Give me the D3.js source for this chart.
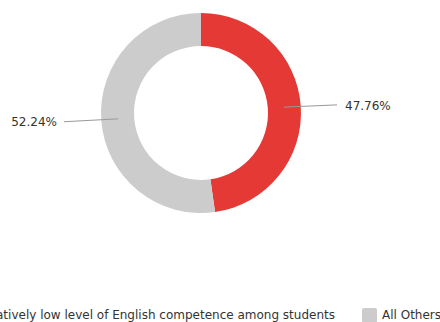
<!DOCTYPE html>
<html><head><meta charset="utf-8">
<script src="https://cdn.jsdelivr.net/npm/d3@7"></script>
<style>body{margin:0;background:#fff;overflow:hidden}svg{display:block}</style>
</head><body>
<svg id="c" width="440" height="322"></svg>
<script>
const categories = ["Relatively low level of English competence among students", "All Others"];
const values = [47.76, 52.24];
const colors = ["#e53935", "#cccccc"];

const FONT = "DejaVu Sans, sans-serif";
const svg = d3.select("#c");
const cx = 201, cy = 113, rOuter = 100, rInner = 67;
const g = svg.append("g").attr("transform", `translate(${cx},${cy})`);
const pie = d3.pie().sort(null).value(d => d)(values);
const arc = d3.arc().innerRadius(rInner).outerRadius(rOuter);
const mid = d3.arc().innerRadius(83).outerRadius(83);

g.selectAll("path.s").data(pie).join("path").attr("class","s")
  .attr("d", arc).attr("fill", (d,i) => colors[i]);

const fmt = v => v.toFixed(2) + "%";
pie.forEach((d,i) => {
  const [x0,y0] = mid.centroid(d);
  const right = x0 > 0;
  const x1 = right ? 136 : -137;
  const y1 = right ? y0 - 2.3 : y0 + 2.9;
  g.append("line").attr("x1", x0).attr("y1", y0).attr("x2", x1).attr("y2", y1)
    .attr("stroke", "#999").attr("stroke-width", 1);
  g.append("text").attr("x", right ? x1 + 8 : x1 - 7).attr("y", y1 + 0.5)
    .attr("dy", "0.35em").attr("text-anchor", right ? "start" : "end")
    .attr("font-family", FONT).attr("font-size", 12)
    .attr("fill", "#333").text(fmt(d.data));
});

// legend
const ly = 315;
const leg = svg.append("g");
const t2x = 382;
leg.append("rect").attr("x", t2x - 20).attr("y", ly - 7).attr("width", 15).attr("height", 15)
  .attr("rx", 2).attr("fill", colors[1]);
leg.append("text").attr("x", t2x).attr("y", ly).attr("dy", "0.35em")
  .attr("font-family", FONT).attr("font-size", 12).attr("fill", "#333")
  .text(categories[1]);
const t1 = leg.append("text").attr("x", 335).attr("y", ly).attr("dy", "0.35em")
  .attr("text-anchor", "end")
  .attr("font-family", FONT).attr("font-size", 12).attr("fill", "#333")
  .text(categories[0]);
const w1 = t1.node().getComputedTextLength();
leg.append("rect").attr("x", 335 - w1 - 20).attr("y", ly - 7).attr("width", 15).attr("height", 15)
  .attr("rx", 2).attr("fill", colors[0]);
</script>
</body></html>
